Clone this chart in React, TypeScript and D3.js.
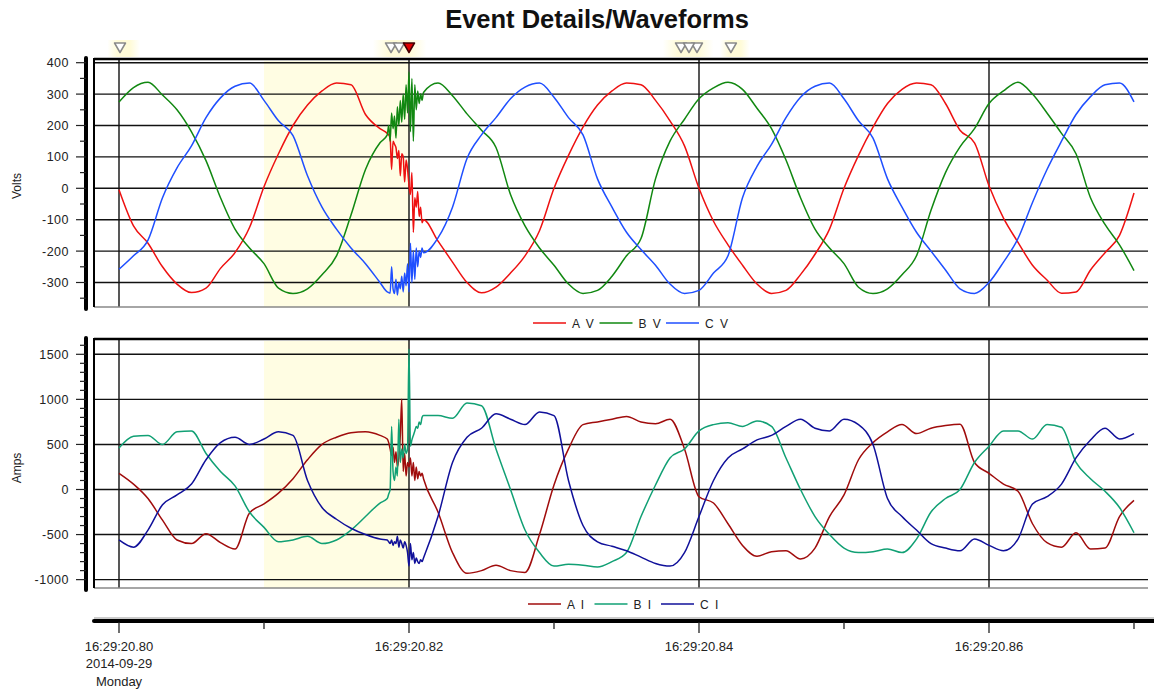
import React from "react";
import * as d3 from "d3";

const W = 1154;
const H = 690;

// ---------- time axis ----------
const timeLabels = ["16:29:20.80", "16:29:20.82", "16:29:20.84", "16:29:20.86"];
const majorTicksMs = [0, 20, 40, 60];
const minorTicksMs = [10, 30, 50, 70];
const firstLabelExtra = ["2014-09-29", "Monday"];

// base samples every 1 ms, 0..70 ms
const timeMs = d3.range(0, 71);
// fault detail samples every 0.1 ms, 18.5..21.0 ms
const faultTimeMs = d3.range(185, 211).map((d) => d / 10);

// ---------- voltages (V) ----------
const AV = [-5, -120, -175, -250, -305, -332, -318, -255, -205, -125, 5, 110, 200, 265, 310, 335, 330, 235, 190, 120, 0, -100, -168, -235, -300, -333, -315, -270, -215, -135, 0, 105, 195, 265, 310, 335, 330, 280, 215, 135, 0, -105, -180, -245, -305, -335, -325, -275, -210, -130, 0, 105, 195, 270, 315, 335, 330, 270, 185, 145, 8, -95, -172, -245, -292, -334, -330, -260, -205, -150, -15];
const BV = [275, 321, 338, 297, 250, 180, 88, -30, -130, -190, -240, -318, -335, -320, -275, -215, -85, 60, 145, 220, 290, 315, 335, 295, 237, 185, 130, -20, -120, -190, -245, -305, -335, -325, -280, -215, -160, 30, 150, 220, 285, 320, 338, 315, 255, 190, 90, -30, -130, -190, -240, -315, -335, -320, -275, -215, -70, 50, 132, 190, 270, 310, 338, 300, 240, 175, 110, -30, -115, -180, -262];
const CV = [-258, -215, -165, -30, 65, 135, 225, 288, 325, 335, 280, 215, 168, 40, -60, -130, -190, -240, -300, -320, -230, -205, -158, -60, 95, 170, 225, 285, 322, 335, 290, 225, 170, 30, -60, -140, -195, -245, -305, -335, -325, -270, -215, -30, 70, 140, 225, 290, 325, 335, 285, 215, 160, 30, -60, -140, -200, -260, -320, -335, -300, -235, -160, -45, 60, 150, 235, 292, 330, 335, 275];

const faultAV = [175, 170, 160, 60, 150, 140, 130, 95, 120, 40, 110, 100, 20, 90, 60, 10, -20, 50, -140, -30, -60, -10, -90, -60, -110, -100];
const faultBV = [170, 200, 150, 240, 190, 230, 160, 260, 200, 280, 210, 300, 220, 330, 240, 370, 180, 350, 150, 330, 250, 310, 270, 300, 280, 305];
const faultCV = [-330, -332, -334, -250, -320, -335, -290, -340, -300, -320, -280, -330, -270, -310, -240, -330, -175, -300, -200, -290, -190, -250, -200, -220, -190, -205];

// ---------- currents (A) ----------
const AI = [180, 60, -100, -340, -560, -600, -490, -590, -660, -260, -160, -40, 120, 330, 500, 580, 630, 640, 600, 560, 200, 100, -250, -700, -930, -900, -840, -900, -920, -500, 50, 450, 720, 750, 780, 810, 750, 730, 780, 450, -80, -150, -380, -620, -740, -690, -680, -770, -650, -300, -60, 330, 520, 640, 720, 620, 680, 710, 725, 300, 180, 60, -20, -380, -590, -640, -480, -660, -650, -300, -120];
const BI = [460, 590, 600, 500, 640, 650, 400, 200, 40, -250, -420, -580, -560, -520, -600, -560, -450, -300, -150, 0, 500, 850, 820, 790, 960, 930, 450, 0, -450, -700, -850, -830, -840, -860, -800, -700, -300, 50, 350, 450, 650, 720, 740, 700, 760, 700, 350, 0, -300, -500, -650, -700, -690, -660, -700, -550, -250, -100, 0, 300, 480, 650, 650, 560, 720, 690, 300, 120, -20, -200, -480];
const CI = [-560, -640, -450, -170, -60, 60, 330, 520, 580, 500, 560, 640, 600, 100, -200, -330, -430, -500, -550, -580, -800, -750, -300, 300, 580, 680, 840, 780, 720, 860, 820, 100, -400, -580, -630, -680, -750, -820, -850, -700, -300, 100, 350, 450, 550, 600, 700, 780, 680, 650, 780, 720, 500, -100, -300, -450, -600, -650, -680, -550, -620, -680, -550, -160, -80, 60, 350, 550, 680, 560, 620];

const faultAI = [560, 520, 450, 380, 470, 300, 420, 250, 350, 600, 1000, 200, 400, 150, 300, 250, 350, 150, 300, 100, 250, 120, 200, 150, 180, 120];
const faultBI = [-100, -50, 0, 700, 200, 100, 250, 150, 780, 300, 450, 350, 500, 400, 450, 1560, 480, 550, 600, 650, 700, 680, 750, 720, 800, 820];
const faultCI = [-560, -580, -600, -560, -620, -580, -600, -520, -640, -560, -600, -650, -580, -620, -700, -850, -600, -780, -700, -820, -760, -800, -820, -780, -800, -760];

// ---------- axes / legends ----------
const voltTicks = [-300, -200, -100, 0, 100, 200, 300, 400];
const ampTicks = [-1000, -500, 0, 500, 1000, 1500];
const voltLegend = ["A V", "B V", "C V"];
const ampLegend = ["A I", "B I", "C I"];
const voltColors = ["#ee1111", "#118811", "#1f4fff"];
const ampColors = ["#a00c0c", "#11a074", "#10109a"];

// event markers (ms) and highlight bands
const markerMs = [0.07, 18.76, 19.31, 39.86, 38.76, 39.31, 42.2];
const activeMarkerMs = 20.0;
const markerGlows = [
  [-0.8, 1.45],
  [17.5, 21.2],
  [37.5, 41.0],
  [41.45, 43.5],
];
const highlightBand = [10, 20];

const mergeSeries = (base: number[], fault: number[]) => {
  const pts: { t: number; v: number }[] = [];
  timeMs.forEach((t, i) => {
    if (t < faultTimeMs[0] || t > faultTimeMs[faultTimeMs.length - 1]) pts.push({ t, v: base[i] });
  });
  faultTimeMs.forEach((t, i) => pts.push({ t, v: fault[i] }));
  return pts.sort((a, b) => a.t - b.t);
};

const FONT = "'Liberation Sans', Arial, sans-serif";

const plotL = 94;
const plotR = 1148;
const x = d3.scaleLinear().domain([0, 70]).range([119, 1134]);

const topP = { y0: 59, y1: 307 };
const botP = { y0: 339, y1: 588 };
const yV = d3.scaleLinear().domain([0, 400]).range([188.3, 62.7]);
const yI = d3.scaleLinear().domain([0, 1500]).range([489.5, 354.3]);

function Panel({
  y,
  p,
  ticks,
  minorStep,
  majorStep,
  series,
  colors,
  clipId,
  label,
  labelY,
}: any) {
  const dom = [y.invert(p.y1), y.invert(p.y0)];
  const minors = d3.range(Math.ceil(dom[0] / minorStep) * minorStep, dom[1], minorStep);
  const line = d3
    .line<{ t: number; v: number }>()
    .x((d) => x(d.t))
    .y((d) => y(d.v))
    .curve(d3.curveMonotoneX);
  return (
    <g>
      <defs>
        <clipPath id={clipId}>
          <rect x={plotL} y={p.y0} width={plotR - plotL} height={p.y1 - p.y0} />
        </clipPath>
      </defs>
      {/* highlight band */}
      <rect
        x={x(highlightBand[0])}
        y={p.y0 + 2}
        width={x(highlightBand[1]) - x(highlightBand[0])}
        height={p.y1 - p.y0 - 2}
        fill="#fffde3"
      />
      {/* horizontal grid */}
      {ticks.map((t: number) => (
        <line key={"g" + t} x1={plotL} x2={plotR} y1={y(t)} y2={y(t)} stroke="#111" strokeWidth={1.4} />
      ))}
      {/* vertical grid */}
      {majorTicksMs.map((t) => (
        <line key={"v" + t} x1={x(t)} x2={x(t)} y1={p.y0} y2={p.y1} stroke="#111" strokeWidth={1.4} />
      ))}
      {/* series */}
      <g clipPath={`url(#${clipId})`}>
        {series.map((s: any, i: number) => (
          <path key={i} d={line(s) || ""} fill="none" stroke={colors[i]} strokeWidth={1.5} strokeLinejoin="round" />
        ))}
      </g>
      {/* frame */}
      <line x1={plotL} x2={plotR} y1={p.y0} y2={p.y0} stroke="#000" strokeWidth={2.5} />
      <line x1={plotL} x2={plotR} y1={p.y1} y2={p.y1} stroke="#888" strokeWidth={1.5} />
      <line x1={plotL} x2={plotL} y1={p.y0 - 1} y2={p.y1} stroke="#000" strokeWidth={2} />
      {/* y axis */}
      <line x1={86} x2={86} y1={p.y0 - 1} y2={p.y1 + 2} stroke="#000" strokeWidth={4} strokeLinecap="round" />
      {minors.map((t: number) => (
        <line
          key={"m" + t}
          x1={Math.abs(t % majorStep) < 1e-6 ? 76 : 80}
          x2={86}
          y1={y(t)}
          y2={y(t)}
          stroke="#222"
          strokeWidth={1.2}
        />
      ))}
      {ticks.map((t: number) => (
        <text
          key={"l" + t}
          x={69}
          y={y(t) + 4.5}
          textAnchor="end"
          fontSize={12.5}
          letterSpacing={0.5}
          fontFamily={FONT}
          fill="#222"
        >
          {t}
        </text>
      ))}
      <text
        transform={`translate(21,${labelY}) rotate(-90)`}
        textAnchor="middle"
        fontSize={12}
        fontFamily={FONT}
        fill="#222"
      >
        {label}
      </text>
    </g>
  );
}

function Legend({ names, colors, y, startX }: any) {
  return (
    <g>
      {names.map((n: string, i: number) => {
        const x0 = startX + i * 66.5;
        return (
          <g key={n}>
            <line x1={x0} x2={x0 + 33} y1={y} y2={y} stroke={colors[i]} strokeWidth={1.5} />
            <text x={x0 + 39} y={y + 4.5} fontSize={12} fontFamily={FONT} fill="#222" style={{ wordSpacing: "3px" }}>
              {n}
            </text>
          </g>
        );
      })}
    </g>
  );
}

export default function App() {
  const vSeries = [mergeSeries(AV, faultAV), mergeSeries(BV, faultBV), mergeSeries(CV, faultCV)];
  const iSeries = [mergeSeries(AI, faultAI), mergeSeries(BI, faultBI), mergeSeries(CI, faultCI)];
  const tri = (cx: number) => `M${cx - 5.5},${43} L${cx + 5.5},${43} L${cx},${52.5} Z`;
  return (
    <svg
      width={W}
      height={H}
      style={{ position: "absolute", left: 0, top: 0, background: "#fff" }}
      fontFamily={FONT}
    >
      <defs>
        <linearGradient id="glow" x1="0" x2="1" y1="0" y2="0">
          <stop offset="0" stopColor="#fffbd8" stopOpacity={0} />
          <stop offset="0.3" stopColor="#fffbd8" stopOpacity={1} />
          <stop offset="0.7" stopColor="#fffbd8" stopOpacity={1} />
          <stop offset="1" stopColor="#fffbd8" stopOpacity={0} />
        </linearGradient>
      </defs>
      <rect x={0} y={0} width={W} height={H} fill="#fff" />
      <text x={597} y={28} textAnchor="middle" fontSize={25.5} fontWeight="bold" fontFamily={FONT} fill="#111">
        Event Details/Waveforms
      </text>

      {/* marker strip */}
      {markerGlows.map((g, i) => (
        <rect key={i} x={x(g[0])} y={40} width={x(g[1]) - x(g[0])} height={17} fill="url(#glow)" />
      ))}
      {markerMs.map((m, i) => (
        <path key={i} d={tri(x(m))} fill="#fff" stroke="#8a8a8a" strokeWidth={1.5} strokeLinejoin="round" />
      ))}
      <path d={tri(x(activeMarkerMs))} fill="#e00000" stroke="#400" strokeWidth={1.5} strokeLinejoin="round" />

      <Panel
        y={yV}
        p={topP}
        ticks={voltTicks}
        minorStep={50}
        majorStep={100}
        series={vSeries}
        colors={voltColors}
        clipId="clipV"
        label="Volts"
        labelY={186}
      />
      <Panel
        y={yI}
        p={botP}
        ticks={ampTicks}
        minorStep={100}
        majorStep={500}
        series={iSeries}
        colors={ampColors}
        clipId="clipI"
        label="Amps"
        labelY={468}
      />

      <Legend names={voltLegend} colors={voltColors} y={323} startX={533} />
      <Legend names={ampLegend} colors={ampColors} y={604} startX={528} />

      {/* time axis */}
      <line x1={plotL} x2={W} y1={618} y2={618} stroke="#999" strokeWidth={1} />
      <line x1={plotL} x2={W} y1={621} y2={621} stroke="#000" strokeWidth={4} strokeLinecap="round" />
      {majorTicksMs.map((t, i) => (
        <g key={t}>
          <line x1={x(t)} x2={x(t)} y1={622} y2={633} stroke="#222" strokeWidth={1.3} />
          <text x={x(t)} y={651} textAnchor="middle" fontSize={13} fontFamily={FONT} fill="#222">
            {timeLabels[i]}
          </text>
        </g>
      ))}
      {minorTicksMs.map((t) => (
        <line key={t} x1={x(t)} x2={x(t)} y1={622} y2={629} stroke="#222" strokeWidth={1.3} />
      ))}
      {firstLabelExtra.map((s, i) => (
        <text key={s} x={x(0)} y={668 + i * 18} textAnchor="middle" fontSize={13} fontFamily={FONT} fill="#222">
          {s}
        </text>
      ))}
    </svg>
  );
}
